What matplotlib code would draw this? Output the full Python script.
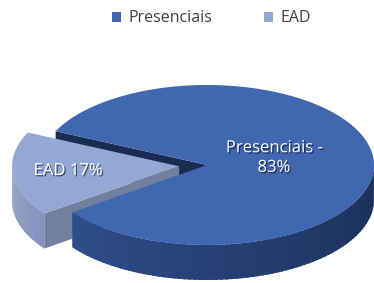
import numpy as np
import matplotlib.pyplot as plt
from matplotlib.patches import Polygon, Patch
import matplotlib.patheffects as pe

rotulos = ['Presenciais', 'EAD']
valores = [83, 17]
textos = ['Presenciais -\n83%', 'EAD 17%']

cor_topo = ['#4068b0', '#94a8d6']
cor_lado_claro = ['#375a9c', '#8898c2']
cor_lado_escuro = ['#1a2e58', '#6f7fa6']
cor_face = ['#1a2c52', '#72809f']

cx, cy = 207, 165
rx, ry = 167, 80
prof = 35
explode = [0, 28]
inicio = 216.2


def ponto(t, dx=0, dy=0, baixo=False):
    r = np.radians(t)
    return (cx + dx + rx * np.cos(r), cy + dy - ry * np.sin(r) + (prof if baixo else 0))


def mistura(c1, c2, f):
    a = np.array(plt.matplotlib.colors.to_rgb(c1))
    b = np.array(plt.matplotlib.colors.to_rgb(c2))
    return a + (b - a) * f


fig = plt.figure(figsize=(3.74, 2.83), dpi=100)
ax = fig.add_axes([0, 0, 1, 1])
ax.set_xlim(0, 374)
ax.set_ylim(283, 0)
ax.axis('off')

total = sum(valores)
fatias = []
a = inicio
for v in valores:
    b = a + 360 * v / total
    fatias.append((a, b))
    a = b


def desloc(i):
    a, b = fatias[i]
    m = np.radians((a + b) / 2)
    return explode[i] * np.cos(m), -explode[i] * np.sin(m) * ry / rx


def face_radial(i, t):
    dx, dy = desloc(i)
    c0 = (cx + dx, cy + dy)
    c1 = (cx + dx, cy + dy + prof)
    pts = [c0, ponto(t, dx, dy), ponto(t, dx, dy, True), c1]
    ax.add_patch(Polygon(pts, closed=True, facecolor=cor_face[i], edgecolor='none', zorder=1))


def lado(i, z):
    a, b = fatias[i]
    dx, dy = desloc(i)
    for k in range(-1, 2):
        lo = max(a, 180 + 360 * k)
        hi = min(b, 360 + 360 * k)
        if hi <= lo:
            continue
        ts = np.linspace(lo, hi, 80)
        passo = ts[1] - ts[0]
        for j in range(len(ts) - 1):
            f = ((ts[j] - 360 * k) - 180) / 180
            cor = mistura(cor_lado_claro[i], cor_lado_escuro[i], f ** 0.8)
            t1 = min(ts[j + 1] + passo * 0.6, hi)
            pts = [ponto(ts[j], dx, dy), ponto(t1, dx, dy),
                   ponto(t1, dx, dy, True), ponto(ts[j], dx, dy, True)]
            ax.add_patch(Polygon(pts, closed=True, facecolor=cor, edgecolor='none', zorder=z))


def topo(i, z):
    a, b = fatias[i]
    dx, dy = desloc(i)
    ts = np.linspace(a, b, 200)
    pts = [(cx + dx, cy + dy)] + [ponto(t, dx, dy) for t in ts]
    ax.add_patch(Polygon(pts, closed=True, facecolor=cor_topo[i], edgecolor='none', zorder=z))


# Presenciais: face radial visível no fim da fatia
face_radial(0, fatias[0][1])
# EAD
face_radial(1, fatias[1][1])
lado(1, 2)
topo(1, 3)
# Presenciais por cima
lado(0, 4)
topo(0, 5)

sombra = [pe.withSimplePatchShadow(offset=(1, -1), shadow_rgbFace='black', alpha=0.55)]
ax.text(274, 158, textos[0], ha='center', va='center', color='white', fontsize=12,
        family='Open Sans', linespacing=1.3, zorder=6, path_effects=sombra)
ax.text(68, 171, textos[1], ha='center', va='center', color='white', fontsize=12,
        family='Open Sans', zorder=6, path_effects=sombra)

alcas = [Patch(facecolor=cor_topo[0]), Patch(facecolor=cor_topo[1])]
leg = ax.legend(alcas, rotulos, loc='center', bbox_to_anchor=(0.565, 0.935), ncol=2,
                frameon=False, handlelength=0.6, handleheight=0.6, handletextpad=0.45,
                columnspacing=3.2, prop={'family': 'Open Sans', 'size': 11.5})
for t in leg.get_texts():
    t.set_color('#404040')

fig.savefig('out.png', dpi=100)
